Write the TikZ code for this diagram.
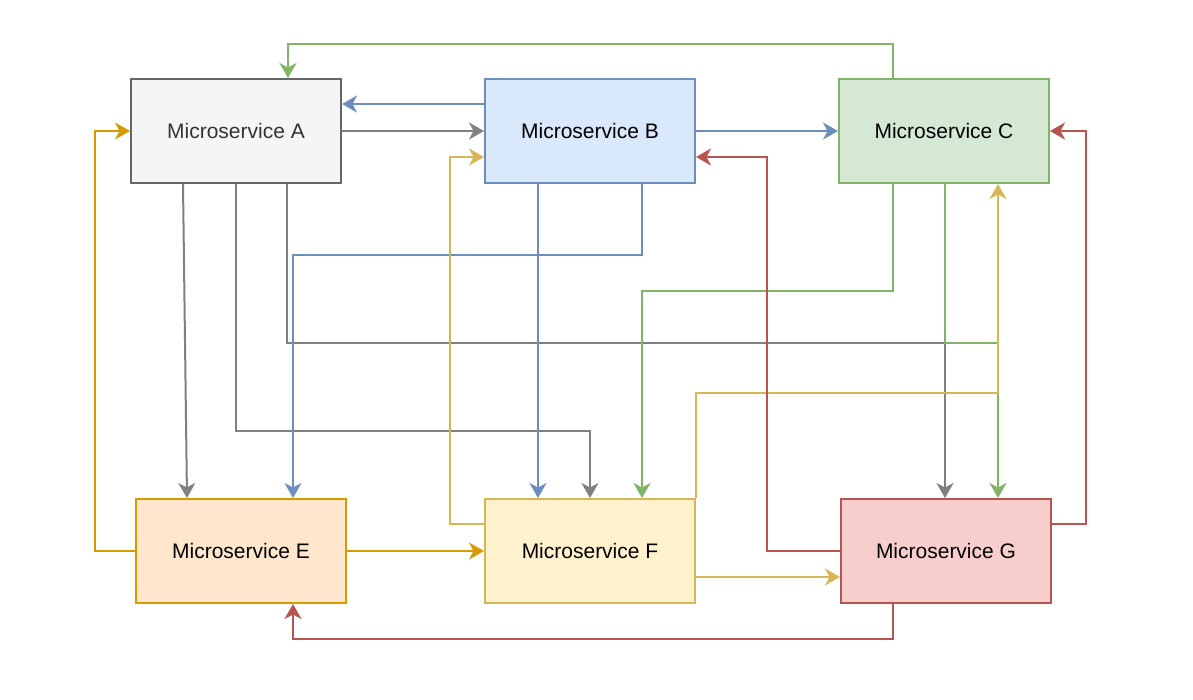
\documentclass[tikz,border=0pt]{standalone}
\usepackage{fontspec}
\setmainfont{Liberation Sans}
\usetikzlibrary{arrows.meta}
\definecolor{aFill}{HTML}{F5F5F5}\definecolor{aLine}{HTML}{666666}\definecolor{aText}{HTML}{333333}
\definecolor{bFill}{HTML}{DAE8FC}\definecolor{bLine}{HTML}{6C8EBF}
\definecolor{cFill}{HTML}{D5E8D4}\definecolor{cLine}{HTML}{82B366}
\definecolor{eFill}{HTML}{FFE6CC}\definecolor{eLine}{HTML}{D79B00}
\definecolor{fFill}{HTML}{FFF2CC}\definecolor{fLine}{HTML}{D6B656}
\definecolor{gFill}{HTML}{F8CECC}\definecolor{gLine}{HTML}{B85450}
\definecolor{grayEdge}{HTML}{808080}
\begin{document}
\begin{tikzpicture}[x=1pt,y=-1pt,
  svc/.style={draw, line width=2pt, minimum width=210pt, minimum height=104pt, inner sep=0pt, font=\fontsize{21}{25}\selectfont},
  edge/.style={line width=2pt, -{Stealth[length=15pt,width=17pt,inset=4.5pt]}},
  eA/.style={edge, grayEdge}, eB/.style={edge, bLine}, eC/.style={edge, cLine},
  eE/.style={edge, eLine}, eF/.style={edge, fLine}, eG/.style={edge, gLine}]
\useasboundingbox (0,0) rectangle (1193,699);
\node[svc, fill=aFill, draw=aLine, text=aText] (A) at (236,131) {Microservice A};
\node[svc, fill=bFill, draw=bLine] (B) at (590,131) {Microservice B};
\node[svc, fill=cFill, draw=cLine] (C) at (944,131) {Microservice C};
\node[svc, fill=eFill, draw=eLine] (E) at (241,551) {Microservice E};
\node[svc, fill=fFill, draw=fLine] (F) at (590,551) {Microservice F};
\node[svc, fill=gFill, draw=gLine] (G) at (946,551) {Microservice G};
% gray (A)
\draw[eA] (A.east) -- (B.west);
\draw[eA] ([xshift=53pt]A.south west) -- ([xshift=52pt]E.north west);
\draw[eA] ([xshift=106pt]A.south west) -- ++(0,247) -| (F.north);
\draw[eA] ([xshift=157pt]A.south west) -- ++(0,159) -| ([xshift=-1pt]G.north);
% green (C)
\draw[eC] ([xshift=-51pt]C.north) -- ++(0,-34) -| ([xshift=52pt]A.north);
\draw[eC] ([xshift=-51pt]C.south) -- ++(0,107) -| ([xshift=52pt]F.north);
\draw[eC] ([xshift=1pt]C.south) -- ++(0,159) -| ([xshift=52pt]G.north);
% blue (B)
\draw[eB] ([yshift=27pt]B.west) -- ([yshift=27pt]A.east);
\draw[eB] (B.east) -- (C.west);
\draw[eB] ([xshift=-52pt]B.south) -- ([xshift=-52pt]F.north);
\draw[eB] ([xshift=52pt]B.south) -- ++(0,71) -| ([xshift=52pt]E.north);
% yellow (F)
\draw[eF] ([yshift=27pt]F.west) -- ++(-34,0) |- ([yshift=-26pt]B.west);
\draw[eF] ([yshift=-26pt]F.east) -- ([yshift=-26pt]G.west);
\draw[eF] (F.north east) -- ++(0,-105) -| ([xshift=54pt]C.south);
% orange (E)
\draw[eE] (E.west) -- ++(-40,0) |- (A.west);
\draw[eE] (E.east) -- (F.west);
% red (G)
\draw[eG] (G.west) -- ++(-73,0) |- ([yshift=-26pt]B.east);
\draw[eG] ([yshift=27pt]G.east) -- ++(34,0) |- (C.east);
\draw[eG] ([xshift=-53pt]G.south) -- ++(0,35) -| ([xshift=52pt]E.south);
\end{tikzpicture}
\end{document}
